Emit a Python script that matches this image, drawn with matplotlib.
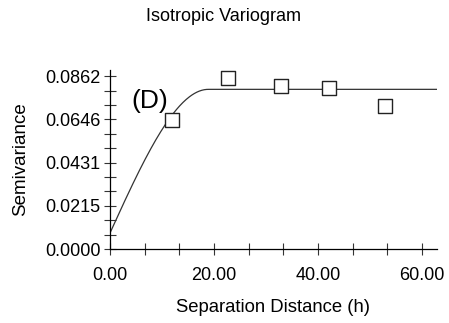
import numpy as np
import matplotlib
matplotlib.use("Agg")
import matplotlib.pyplot as plt
from matplotlib.ticker import MultipleLocator

plt.rcParams['font.family'] = ['Liberation Sans', 'DejaVu Sans']

# experimental variogram points
lag_x = [11.9, 22.75, 32.8, 42.05, 52.9]
semivar = [0.0643, 0.0855, 0.0812, 0.0804, 0.0712]

# spherical model parameters
nugget = 0.0080
sill = 0.0796
model_range = 18.9

x_ticks = [0, 20, 40, 60]
x_tick_labels = ["0.00", "20.00", "40.00", "60.00"]
y_ticks = [0.0, 0.02155, 0.0431, 0.06465, 0.0862]
y_tick_labels = ["0.0000", "0.0215", "0.0431", "0.0646", "0.0862"]

fig = plt.figure(figsize=(4.49, 3.23), dpi=100)
ax = fig.add_axes([0.245, 0.229, 0.7276, 0.554])

h = np.linspace(0, 62.8, 400)
hr = np.minimum(h / model_range, 1.0)
gamma = nugget + (sill - nugget) * (1.5 * hr - 0.5 * hr ** 3)
ax.plot(h, gamma, color="#333333", linewidth=0.9)

ax.scatter(lag_x, semivar, marker="s", s=90, facecolors="white",
           edgecolors="#222222", linewidths=1.0, zorder=3)

ax.text(7.7, 0.0737, "(D)", fontsize=19, ha="center", va="center")

ax.set_xlim(0, 62.8)
ax.set_ylim(0, 0.0892)
ax.set_xticks(x_ticks)
ax.set_xticklabels(x_tick_labels)
ax.set_yticks(y_ticks)
ax.set_yticklabels(y_tick_labels)
ax.xaxis.set_minor_locator(MultipleLocator(20 / 3))
ax.yaxis.set_minor_locator(MultipleLocator(0.0862 / 12))

for s in ["top", "right"]:
    ax.spines[s].set_visible(False)
for s in ["left", "bottom"]:
    ax.spines[s].set_linewidth(0.9)
ax.tick_params(which="both", direction="inout", length=8, width=0.8,
               labelsize=13, color="#333333")
ax.tick_params(axis="x", which="major", pad=9)
ax.tick_params(axis="y", which="major", pad=3)

ax.set_xlabel("Separation Distance (h)", fontsize=13.3, labelpad=11)
ax.set_ylabel("Semivariance", fontsize=13.5, labelpad=11)
fig.text(0.497, 0.948, "Isotropic Variogram", fontsize=13, ha="center", va="center")

fig.savefig("out.png", dpi=100)
